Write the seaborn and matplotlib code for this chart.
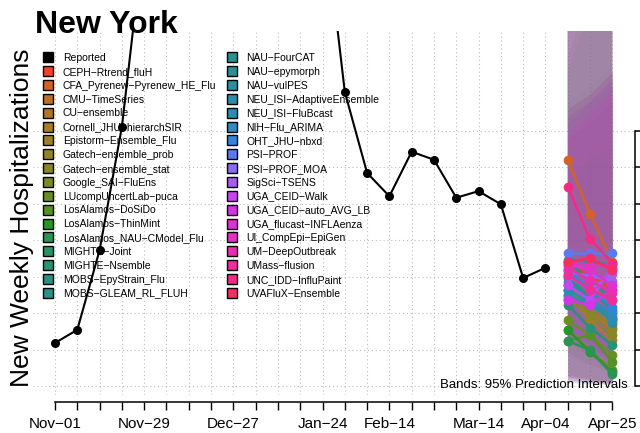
import matplotlib
matplotlib.use("Agg")
import matplotlib.pyplot as plt
import matplotlib.dates as mdates
from matplotlib.lines import Line2D
import pandas as pd
import seaborn as sns

sns.set_theme(style="white", rc={"text.color": "black", "xtick.color": "black",
                                 "ytick.color": "black", "axes.labelcolor": "black"})
plt.rcParams["font.family"] = ["Liberation Sans", "DejaVu Sans"]

# %% data
report_dates = pd.date_range("2024-11-01", "2025-04-04", freq="7D")
reported = [590, 770, 1860, 3550, 6200, 9000, 12500, 17000, 21000, 22500, 18000, 11500,
            6650, 4030, 2920, 2600, 3210, 3100, 2580, 2670, 2490, 1480, 1620]

forecast_dates = pd.to_datetime(["2025-04-11", "2025-04-18", "2025-04-25"])

models = [
    "CEPH-Rtrend_fluH", "CFA_Pyrenew-Pyrenew_HE_Flu", "CMU-TimeSeries", "CU-ensemble",
    "Cornell_JHU-hierarchSIR", "Epistorm-Ensemble_Flu", "Gatech-ensemble_prob",
    "Gatech-ensemble_stat", "Google_SAI-FluEns", "LUcompUncertLab-puca",
    "LosAlamos-DoSiDo", "LosAlamos-ThinMint", "LosAlamos_NAU-CModel_Flu",
    "MIGHTE-Joint", "MIGHTE-Nsemble", "MOBS-EpyStrain_Flu", "MOBS-GLEAM_RL_FLUH",
    "NAU-FourCAT", "NAU-epymorph", "NAU-vulPES", "NEU_ISI-AdaptiveEnsemble",
    "NEU_ISI-FluBcast", "NIH-Flu_ARIMA", "OHT_JHU-nbxd", "PSI-PROF", "PSI-PROF_MOA",
    "SigSci-TSENS", "UGA_CEID-Walk", "UGA_CEID-auto_AVG_LB", "UGA_flucast-INFLAenza",
    "UI_CompEpi-EpiGen", "UM-DeepOutbreak", "UMass-flusion", "UNC_IDD-InfluPaint",
    "UVAFluX-Ensemble",
]

# median forecasts, 1-3 weeks ahead
med_h1 = [1660, 3100, 1320, 1180, 1250, 1380, 1320, 1210, 770, 900, 620, 770, 620, 1480,
          1110, 1700, 1590, 1730, 1520, 1430, 1320, 1250, 1380, 1590, 1820, 1560, 1510,
          1380, 1180, 1660, 1700, 1620, 1520, 2730, 1700]
med_h2 = [1520, 2360, 1180, 1010, 900, 1110, 1040, 970, 490, 700, 700, 470, 490, 1180,
          800, 1450, 1320, 1700, 1210, 1180, 1140, 1110, 1180, 1320, 1820, 1510, 1320,
          1180, 1110, 1590, 1640, 1450, 1320, 2010, 1750]
med_h3 = [1320, 1700, 930, 770, 630, 840, 800, 700, 220, 430, 330, 190, 160, 930, 560,
          1180, 1040, 1660, 860, 900, 970, 900, 1010, 1080, 1820, 1440, 1530, 1620, 1320,
          1380, 1670, 1270, 1180, 1690, 1590]

# 95% prediction interval bounds
lo_h1 = [800, 1900, 150, 600, 120, 650, 150, 600, 80, 450, 60, 400, 50, 700, 120, 800,
         150, 850, 140, 700, 130, 650, 120, 750, 40, 750, 60, 700, 80, 800, 100, 800, 90,
         1800, 120]
lo_h2 = [550, 1100, 100, 400, 80, 450, 100, 400, 50, 300, 40, 280, 35, 500, 80, 550, 100,
         600, 90, 480, 90, 450, 80, 500, 30, 500, 40, 480, 50, 550, 70, 550, 60, 1100, 80]
lo_h3 = [350, 500, 60, 250, 40, 280, 60, 250, 30, 180, 25, 160, 20, 320, 40, 350, 60, 400,
         50, 300, 50, 280, 50, 320, 20, 330, 25, 300, 30, 350, 40, 350, 35, 600, 50]
hi_h1 = [5200, 5800, 3600, 4800, 3400, 5000, 3800, 4900, 3000, 4500, 2900, 4300, 2800,
         5200, 3700, 5400, 3900, 5000, 3600, 5100, 3800, 4900, 3700, 5000, 3500, 5200,
         3600, 4800, 3400, 5100, 3700, 4900, 3500, 5600, 3800]
hi_h2 = [6300, 7000, 3900, 5800, 3600, 6100, 4000, 5900, 3300, 5500, 3200, 5200, 3100,
         6300, 3900, 6500, 4100, 6100, 3900, 6200, 4000, 5900, 3900, 6000, 3800, 6300,
         3900, 5800, 3700, 6200, 4000, 5900, 3800, 6800, 4000]
hi_h3 = [7600, 8400, 4200, 7000, 3900, 7300, 4300, 7100, 3500, 6600, 3400, 6300, 3300,
         7600, 4100, 7800, 4400, 7300, 4200, 7500, 4300, 7100, 4200, 7200, 4100, 7600,
         4200, 7000, 4000, 7500, 4300, 7100, 4100, 8200, 4300]

grid_values = [0, 500, 1000, 1500, 2000, 2500, 3000, 3500]
label_dates = pd.to_datetime(["2024-11-01", "2024-11-29", "2024-12-27", "2025-01-24",
                              "2025-02-14", "2025-03-14", "2025-04-04", "2025-04-25"])
label_text = ["Nov−01", "Nov−29", "Dec−27", "Jan−24", "Feb−14", "Mar−14", "Apr−04", "Apr−25"]

colors = sns.husl_palette(len(models), h=15 / 360, s=0.9, l=0.55)

# %% long table for the forecasts
fc = pd.DataFrame({
    "model": models * 3,
    "date": [d for d in forecast_dates for _ in models],
    "value": med_h1 + med_h2 + med_h3,
    "lo": lo_h1 + lo_h2 + lo_h3,
    "hi": hi_h1 + hi_h2 + hi_h3,
})

# %% plot
fig = plt.figure(figsize=(6.4, 4.33), dpi=100)
ax = fig.add_axes([32.7 / 640, 38 / 433, (634.6 - 32.7) / 640, (395 - 31) / 433])

for name, col in zip(models, colors):
    sub = fc[fc["model"] == name]
    ax.fill_between(sub["date"], sub["lo"], sub["hi"], color=col, alpha=0.08,
                    linewidth=0, zorder=2)

sns.lineplot(data=fc, x="date", y="value", hue="model", palette=colors,
             marker="o", markersize=7, markeredgewidth=0, linewidth=1.8,
             legend=False, ax=ax, zorder=3)

sns.lineplot(x=report_dates, y=reported, color="black", marker="o", markersize=6.5,
             markeredgewidth=0, linewidth=1.5, ax=ax, zorder=4)

ax.set_xlim(pd.Timestamp("2024-10-25"), pd.Timestamp("2025-05-02"))
ax.set_ylim(-123, 4864)

week_ticks = pd.date_range("2024-11-01", "2025-04-25", freq="7D")
ax.set_xticks(week_ticks)
ax.set_xticklabels([label_text[list(label_dates).index(d)] if d in list(label_dates) else ""
                    for d in week_ticks])
ax.set_yticks(grid_values)
ax.grid(True, linestyle=(0, (1, 2.5)), color="#BDBDBD", linewidth=0.8)
ax.set_axisbelow(True)

for s in ["top", "left"]:
    ax.spines[s].set_visible(False)
ax.spines["bottom"].set_position(("outward", 5))
ax.spines["bottom"].set_bounds(mdates.date2num(week_ticks[0]), mdates.date2num(week_ticks[-1]))
ax.spines["right"].set_bounds(grid_values[0], grid_values[-1])
for s in ["bottom", "right"]:
    ax.spines[s].set_color("black")
    ax.spines[s].set_linewidth(1.1)
ax.yaxis.set_ticks_position("right")
ax.tick_params(axis="y", direction="out", length=5, width=1.1, color="black",
               labelright=False, labelleft=False)
ax.tick_params(axis="x", direction="out", length=6, width=1.0, color="black",
               labelsize=11, pad=5, bottom=True)
ax.set_xlabel("")
ax.set_ylabel("")

ax.text(0.989, 0.028, "Bands: 95% Prediction Intervals", transform=ax.transAxes,
        ha="right", va="center", fontsize=9.5)

handles = [Line2D([], [], marker="s", linestyle="", markersize=6.5, markerfacecolor="black",
                  markeredgecolor="black", markeredgewidth=1)]
handles += [Line2D([], [], marker="s", linestyle="", markersize=6.5, markerfacecolor=c,
                   markeredgecolor="black", markeredgewidth=1) for c in colors]
labels = ["Reported"] + [m.replace("-", "−") for m in models]
leg = ax.legend(handles, labels, ncol=2, loc="upper left",
                bbox_to_anchor=(43 / 640, 1 - 53 / 433), bbox_transform=fig.transFigure,
                frameon=False, fontsize=7.5, handlelength=1.0, handletextpad=0.9,
                columnspacing=1.0, labelspacing=0.37, borderpad=0, borderaxespad=0)
leg.set_zorder(1.5)

fig.text(35 / 640, 1 - 33 / 433, "New York", fontsize=23, fontweight="bold", va="baseline")
fig.text(22 / 640, 1 - 218 / 433, "New Weekly Hospitalizations", rotation=90,
         ha="center", va="center", fontsize=19)

fig.savefig("out.png", dpi=100)
